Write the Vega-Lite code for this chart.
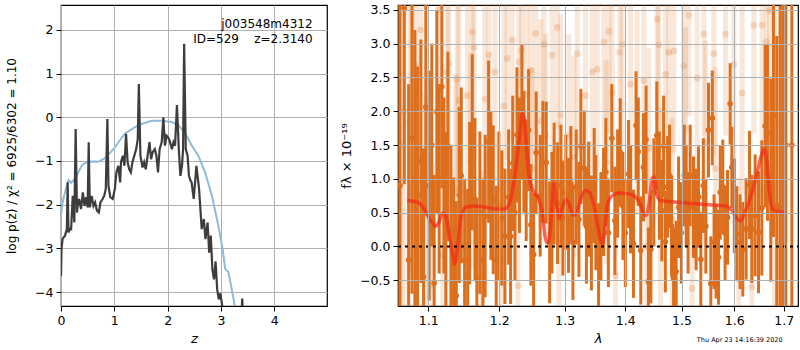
{
"$schema": "https://vega.github.io/schema/vega-lite/v6.json",
"background": "white",
"padding": {"left": 4, "top": 3, "right": 0, "bottom": 0},
"bounds": "flush",
"spacing": 71,
"title": {"text": "Thu Apr 23 14:16:39 2020", "orient": "bottom", "anchor": "end", "fontSize": 6.5, "fontWeight": "normal", "font": "DejaVu Sans", "color": "black", "offset": -9, "dx": -16},
"config": {
  "font": "DejaVu Sans",
  "view": {"stroke": "black", "strokeWidth": 1.2},
  "axis": {"grid": true, "gridColor": "#b0b0b0", "gridWidth": 1, "gridOpacity": 1, "domain": false, "tickColor": "black", "tickSize": 5, "tickWidth": 1, "labelFont": "DejaVu Sans", "labelFontSize": 12.5, "labelColor": "black", "labelOverlap": false, "labelFlush": false, "titleFont": "DejaVu Sans", "titleFontSize": 13, "titleFontWeight": "normal", "titleColor": "black", "labelPadding": 3, "titlePadding": 6}
},
"datasets": {
  "pz": [
    {"z":0.0,"lnp":-3.63},{"z":0.01,"lnp":-3.0},{"z":0.03,"lnp":-2.79},{"z":0.05,"lnp":-2.75},{"z":0.075,"lnp":-2.71},{"z":0.1,"lnp":-2.6},{"z":0.11,"lnp":-2.56},{"z":0.125,"lnp":-1.49},{"z":0.14,"lnp":-2.64},{"z":0.17,"lnp":-2.55},{"z":0.19,"lnp":-2.56},{"z":0.22,"lnp":-1.8},{"z":0.25,"lnp":-2.41},{"z":0.275,"lnp":-0.27},{"z":0.3,"lnp":-2.18},{"z":0.32,"lnp":-1.95},{"z":0.34,"lnp":-1.87},{"z":0.375,"lnp":-2.1},{"z":0.41,"lnp":-1.72},{"z":0.44,"lnp":-2.03},{"z":0.47,"lnp":-1.83},{"z":0.5,"lnp":-2.06},{"z":0.52,"lnp":-0.57},{"z":0.54,"lnp":-2.06},{"z":0.575,"lnp":-1.8},{"z":0.61,"lnp":-2.03},{"z":0.64,"lnp":-1.95},{"z":0.675,"lnp":-2.14},{"z":0.71,"lnp":-2.18},{"z":0.74,"lnp":-1.95},{"z":0.78,"lnp":-1.87},{"z":0.81,"lnp":-1.8},{"z":0.84,"lnp":-1.64},{"z":0.87,"lnp":-0.04},{"z":0.89,"lnp":-1.57},{"z":0.925,"lnp":-1.83},{"z":0.97,"lnp":-1.87},{"z":1.01,"lnp":-1.64},{"z":1.04,"lnp":-1.26},{"z":1.075,"lnp":-1.11},{"z":1.11,"lnp":-1.49},{"z":1.125,"lnp":-1.03},{"z":1.16,"lnp":-0.88},{"z":1.19,"lnp":-1.11},{"z":1.22,"lnp":-0.38},{"z":1.25,"lnp":-1.03},{"z":1.28,"lnp":-1.19},{"z":1.31,"lnp":-1.26},{"z":1.34,"lnp":-1.03},{"z":1.375,"lnp":-0.88},{"z":1.41,"lnp":-0.73},{"z":1.44,"lnp":-0.5},{"z":1.46,"lnp":0.76},{"z":1.49,"lnp":-0.88},{"z":1.53,"lnp":-1.15},{"z":1.56,"lnp":-1.03},{"z":1.59,"lnp":-1.19},{"z":1.625,"lnp":-0.88},{"z":1.66,"lnp":-0.57},{"z":1.69,"lnp":-0.96},{"z":1.72,"lnp":-0.8},{"z":1.76,"lnp":-0.73},{"z":1.79,"lnp":-0.88},{"z":1.82,"lnp":-1.26},{"z":1.85,"lnp":-0.73},{"z":1.89,"lnp":-0.57},{"z":1.92,"lnp":0.0},{"z":1.95,"lnp":-0.65},{"z":1.98,"lnp":-0.42},{"z":2.01,"lnp":-0.46},{"z":2.04,"lnp":-0.54},{"z":2.08,"lnp":-0.73},{"z":2.11,"lnp":-0.57},{"z":2.14,"lnp":-0.65},{"z":2.175,"lnp":0.28},{"z":2.21,"lnp":-0.73},{"z":2.24,"lnp":-1.34},{"z":2.27,"lnp":-1.11},{"z":2.29,"lnp":-0.73},{"z":2.31,"lnp":1.68},{"z":2.34,"lnp":-0.73},{"z":2.375,"lnp":-0.88},{"z":2.4,"lnp":-1.34},{"z":2.43,"lnp":-1.45},{"z":2.45,"lnp":-1.49},{"z":2.49,"lnp":-1.87},{"z":2.54,"lnp":-1.11},{"z":2.59,"lnp":-1.64},{"z":2.64,"lnp":-2.56},{"z":2.68,"lnp":-2.33},{"z":2.71,"lnp":-2.79},{"z":2.75,"lnp":-2.41},{"z":2.78,"lnp":-3.1},{"z":2.81,"lnp":-2.71},{"z":2.84,"lnp":-3.48},{"z":2.87,"lnp":-3.71},{"z":2.9,"lnp":-3.3},{"z":2.93,"lnp":-3.94},{"z":2.96,"lnp":-4.17},{"z":2.99,"lnp":-4.03},{"z":3.03,"lnp":-4.36},{"z":3.08,"lnp":-4.7},{"z":3.2,"lnp":-5.2},{"z":3.37,"lnp":-5.0},{"z":3.4,"lnp":-4.15},{"z":3.43,"lnp":-5.0},{"z":3.6,"lnp":-5.5}
  ],
  "prior": [
    {"z":0.0,"lnp":-2.24},{"z":0.03,"lnp":-1.95},{"z":0.06,"lnp":-1.79},{"z":0.1,"lnp":-1.6},{"z":0.14,"lnp":-1.44},{"z":0.19,"lnp":-1.5},{"z":0.27,"lnp":-1.4},{"z":0.33,"lnp":-1.25},{"z":0.39,"lnp":-1.1},{"z":0.49,"lnp":-1.02},{"z":0.64,"lnp":-1.01},{"z":0.7,"lnp":-1.02},{"z":0.83,"lnp":-0.93},{"z":0.99,"lnp":-0.72},{"z":1.2,"lnp":-0.37},{"z":1.45,"lnp":-0.18},{"z":1.7,"lnp":-0.08},{"z":1.89,"lnp":-0.08},{"z":2.08,"lnp":-0.11},{"z":2.2,"lnp":-0.18},{"z":2.33,"lnp":-0.37},{"z":2.45,"lnp":-0.64},{"z":2.58,"lnp":-0.89},{"z":2.7,"lnp":-1.25},{"z":2.83,"lnp":-1.79},{"z":2.95,"lnp":-2.47},{"z":3.03,"lnp":-3.0},{"z":3.08,"lnp":-3.47},{"z":3.14,"lnp":-3.54},{"z":3.2,"lnp":-3.92},{"z":3.26,"lnp":-4.32},{"z":3.35,"lnp":-5.0}
  ],
  "dark": [
    {"w":1.0625,"f":0.9,"e":3.2},{"w":1.0682,"f":3.52,"e":2.6},{"w":1.0739,"f":-0.2,"e":2.6},{"w":1.0783,"f":1.6,"e":2.3},{"w":1.0822,"f":1.0,"e":2.2},{"w":1.0857,"f":0.76,"e":1.9},{"w":1.0901,"f":1.26,"e":1.8},{"w":1.0937,"f":-0.45,"e":1.9},{"w":1.0967,"f":2.06,"e":1.6},{"w":1.1012,"f":0.9,"e":1.7},{"w":1.1048,"f":1.5,"e":1.5},{"w":1.108,"f":-0.54,"e":1.6},{"w":1.1116,"f":1.99,"e":1.5},{"w":1.1148,"f":1.0,"e":1.4},{"w":1.1185,"f":2.36,"e":1.5},{"w":1.1213,"f":0.9,"e":1.3},{"w":1.124,"f":0.39,"e":1.3},{"w":1.1268,"f":1.48,"e":1.4},{"w":1.131,"f":0.2,"e":1.3},{"w":1.1347,"f":-0.28,"e":1.3},{"w":1.1384,"f":-0.73,"e":1.4},{"w":1.1426,"f":0.76,"e":1.3},{"w":1.1454,"f":1.05,"e":1.3},{"w":1.1501,"f":-0.2,"e":1.2},{"w":1.1544,"f":-0.45,"e":1.3},{"w":1.1572,"f":0.64,"e":1.2},{"w":1.1609,"f":1.54,"e":1.3},{"w":1.1647,"f":0.7,"e":1.2},{"w":1.1675,"f":-0.49,"e":1.2},{"w":1.1718,"f":0.5,"e":1.2},{"w":1.1761,"f":-0.2,"e":1.2},{"w":1.1794,"f":0.45,"e":1.2},{"w":1.1844,"f":1.55,"e":1.2},{"w":1.1877,"f":0.9,"e":1.1},{"w":1.1911,"f":0.69,"e":1.1},{"w":1.1955,"f":-0.2,"e":1.1},{"w":1.1994,"f":0.6,"e":1.1},{"w":1.2038,"f":0.42,"e":1.0},{"w":1.2083,"f":0.15,"e":1.0},{"w":1.2138,"f":0.73,"e":1.0},{"w":1.2167,"f":0.15,"e":1.0},{"w":1.2199,"f":1.23,"e":1.0},{"w":1.2232,"f":0.5,"e":1.0},{"w":1.2262,"f":1.65,"e":1.0},{"w":1.23,"f":1.2,"e":1.0},{"w":1.2337,"f":1.99,"e":1.0},{"w":1.2367,"f":1.4,"e":0.9},{"w":1.2402,"f":0.98,"e":0.9},{"w":1.2438,"f":1.72,"e":0.9},{"w":1.2473,"f":0.32,"e":0.9},{"w":1.2515,"f":-0.12,"e":0.9},{"w":1.2555,"f":1.39,"e":0.9},{"w":1.2616,"f":0.75,"e":0.9},{"w":1.2658,"f":1.25,"e":0.9},{"w":1.2709,"f":1.24,"e":0.9},{"w":1.2763,"f":0.06,"e":0.9},{"w":1.2799,"f":0.5,"e":0.9},{"w":1.2834,"f":0.93,"e":0.9},{"w":1.2888,"f":0.64,"e":0.9},{"w":1.294,"f":0.9,"e":0.9},{"w":1.2972,"f":0.42,"e":0.85},{"w":1.3019,"f":0.8,"e":0.85},{"w":1.3062,"f":0.46,"e":0.85},{"w":1.3099,"f":0.93,"e":0.85},{"w":1.3132,"f":0.06,"e":0.85},{"w":1.3185,"f":0.88,"e":0.85},{"w":1.3229,"f":0.4,"e":0.85},{"w":1.3261,"f":1.48,"e":0.85},{"w":1.3315,"f":1.16,"e":0.85},{"w":1.3351,"f":0.3,"e":0.85},{"w":1.3388,"f":0.7,"e":0.85},{"w":1.3433,"f":0.2,"e":0.85},{"w":1.3479,"f":0.9,"e":0.85},{"w":1.3507,"f":0.5,"e":0.85},{"w":1.3551,"f":-0.21,"e":0.85},{"w":1.359,"f":0.3,"e":0.8},{"w":1.3634,"f":0.66,"e":0.8},{"w":1.3673,"f":1.1,"e":0.8},{"w":1.3715,"f":0.2,"e":0.8},{"w":1.3773,"f":1.6,"e":0.8},{"w":1.3825,"f":0.38,"e":0.8},{"w":1.3871,"f":0.93,"e":0.8},{"w":1.3916,"f":1.39,"e":0.8},{"w":1.3961,"f":0.6,"e":0.8},{"w":1.4003,"f":0.2,"e":0.8},{"w":1.4058,"f":1.07,"e":0.8},{"w":1.4093,"f":0.7,"e":0.8},{"w":1.4143,"f":0.04,"e":0.8},{"w":1.4188,"f":1.79,"e":0.8},{"w":1.4226,"f":1.4,"e":0.8},{"w":1.427,"f":-0.06,"e":0.8},{"w":1.4317,"f":1.17,"e":0.8},{"w":1.4363,"f":1.58,"e":0.8},{"w":1.4405,"f":-0.52,"e":0.8},{"w":1.4447,"f":-0.04,"e":0.8},{"w":1.45,"f":0.8,"e":0.8},{"w":1.4553,"f":1.64,"e":0.8},{"w":1.4598,"f":0.9,"e":0.8},{"w":1.4643,"f":0.53,"e":0.75},{"w":1.4675,"f":1.48,"e":0.75},{"w":1.4706,"f":0.07,"e":0.75},{"w":1.4746,"f":0.88,"e":0.75},{"w":1.4782,"f":1.05,"e":0.75},{"w":1.4818,"f":0.3,"e":0.75},{"w":1.4855,"f":-0.47,"e":0.75},{"w":1.4902,"f":-0.37,"e":0.75},{"w":1.4946,"f":0.58,"e":0.75},{"w":1.4997,"f":0.2,"e":0.75},{"w":1.5049,"f":1.05,"e":0.75},{"w":1.5086,"f":0.75,"e":0.75},{"w":1.5122,"f":0.35,"e":0.75},{"w":1.516,"f":1.05,"e":0.75},{"w":1.5222,"f":0.58,"e":0.75},{"w":1.5271,"f":0.4,"e":0.75},{"w":1.5316,"f":0.73,"e":0.75},{"w":1.5359,"f":-0.19,"e":0.7},{"w":1.5406,"f":0.9,"e":0.7},{"w":1.5453,"f":0.3,"e":0.7},{"w":1.5504,"f":1.72,"e":0.7},{"w":1.5548,"f":-0.55,"e":0.7},{"w":1.5576,"f":1.9,"e":0.7},{"w":1.561,"f":0.07,"e":0.7},{"w":1.5648,"f":-0.07,"e":0.7},{"w":1.5695,"f":-0.16,"e":0.7},{"w":1.5729,"f":0.8,"e":0.7},{"w":1.5778,"f":0.88,"e":0.7},{"w":1.5822,"f":0.2,"e":0.7},{"w":1.5869,"f":0.43,"e":0.7},{"w":1.592,"f":2.11,"e":0.6},{"w":1.5953,"f":1.17,"e":0.6},{"w":1.6002,"f":0.6,"e":0.7},{"w":1.6051,"f":0.19,"e":0.7},{"w":1.6116,"f":0.07,"e":0.7},{"w":1.6169,"f":-0.04,"e":0.7},{"w":1.6235,"f":0.26,"e":0.75},{"w":1.6303,"f":0.91,"e":0.8},{"w":1.6349,"f":0.26,"e":0.8},{"w":1.6415,"f":0.46,"e":0.9},{"w":1.6483,"f":0.21,"e":0.9},{"w":1.655,"f":0.57,"e":1.0},{"w":1.6617,"f":1.78,"e":1.2},{"w":1.6665,"f":1.68,"e":1.3},{"w":1.6733,"f":0.98,"e":1.5},{"w":1.6788,"f":1.94,"e":1.8},{"w":1.6856,"f":0.61,"e":2.5},{"w":1.6925,"f":0.56,"e":3.0},{"w":1.6981,"f":1.5,"e":4.0},{"w":1.7044,"f":1.5,"e":4.0},{"w":1.717,"f":1.5,"e":4.0}
  ],
  "light": [
    {"w":1.0635,"f":1.5,"e":3.0},{"w":1.0678,"f":2.0,"e":3.0},{"w":1.0756,"f":1.86,"e":2.2},{"w":1.0783,"f":2.13,"e":2.0},{"w":1.0832,"f":2.68,"e":2.0},{"w":1.0898,"f":3.2,"e":2.0},{"w":1.0965,"f":0.46,"e":1.8},{"w":1.1054,"f":-0.58,"e":1.8},{"w":1.1141,"f":3.5,"e":1.8},{"w":1.1199,"f":-0.13,"e":1.8},{"w":1.1258,"f":2.58,"e":1.7},{"w":1.1282,"f":2.7,"e":1.7},{"w":1.1375,"f":0.85,"e":1.7},{"w":1.1398,"f":2.47,"e":1.7},{"w":1.1421,"f":2.16,"e":1.7},{"w":1.1539,"f":2.23,"e":1.6},{"w":1.1586,"f":1.26,"e":1.6},{"w":1.1609,"f":3.17,"e":1.6},{"w":1.1633,"f":2.95,"e":1.6},{"w":1.1752,"f":-0.48,"e":1.6},{"w":1.179,"f":2.18,"e":1.6},{"w":1.1848,"f":2.83,"e":1.6},{"w":1.1936,"f":2.58,"e":1.6},{"w":1.2038,"f":-0.43,"e":1.6},{"w":1.2068,"f":2.08,"e":1.5},{"w":1.2117,"f":2.78,"e":1.5},{"w":1.2192,"f":3.05,"e":1.5},{"w":1.2277,"f":-0.58,"e":1.5},{"w":1.2292,"f":2.73,"e":1.5},{"w":1.2332,"f":2.9,"e":1.5},{"w":1.2402,"f":2.24,"e":1.5},{"w":1.2469,"f":2.6,"e":1.5},{"w":1.2494,"f":1.15,"e":1.5},{"w":1.2546,"f":3.15,"e":1.5},{"w":1.2622,"f":1.86,"e":1.5},{"w":1.2674,"f":2.99,"e":1.5},{"w":1.27,"f":1.64,"e":1.5},{"w":1.2804,"f":2.83,"e":1.5},{"w":1.2883,"f":3.24,"e":1.5},{"w":1.2909,"f":0.35,"e":1.5},{"w":1.2936,"f":1.94,"e":1.5},{"w":1.3068,"f":1.64,"e":1.5},{"w":1.3148,"f":1.32,"e":1.5},{"w":1.3202,"f":2.85,"e":1.5},{"w":1.3337,"f":2.23,"e":1.5},{"w":1.3446,"f":2.58,"e":1.5},{"w":1.3528,"f":2.62,"e":1.5},{"w":1.364,"f":3.02,"e":1.5},{"w":1.3681,"f":1.25,"e":1.5},{"w":1.3723,"f":3.18,"e":1.5},{"w":1.3779,"f":2.28,"e":1.5},{"w":1.3836,"f":-0.43,"e":1.5},{"w":1.3909,"f":2.87,"e":1.5},{"w":1.3948,"f":2.99,"e":1.5},{"w":1.4092,"f":2.4,"e":1.5},{"w":1.4206,"f":1.99,"e":1.5},{"w":1.4324,"f":2.45,"e":1.5},{"w":1.4377,"f":0.0,"e":1.5},{"w":1.4412,"f":1.44,"e":1.5},{"w":1.4559,"f":3.36,"e":1.5},{"w":1.4589,"f":2.98,"e":1.5},{"w":1.4619,"f":0.55,"e":1.5},{"w":1.471,"f":2.55,"e":1.5},{"w":1.4769,"f":2.87,"e":1.5},{"w":1.4829,"f":0.4,"e":1.5},{"w":1.486,"f":2.89,"e":1.5},{"w":1.5043,"f":2.67,"e":1.5},{"w":1.5074,"f":1.74,"e":1.5},{"w":1.5135,"f":3.42,"e":1.5},{"w":1.5197,"f":-0.62,"e":1.5},{"w":1.529,"f":2.49,"e":1.5},{"w":1.5416,"f":3.14,"e":1.5},{"w":1.5448,"f":1.54,"e":1.5},{"w":1.5605,"f":2.85,"e":1.5},{"w":1.5637,"f":1.15,"e":1.5},{"w":1.583,"f":3.14,"e":1.5},{"w":1.5992,"f":2.69,"e":1.5},{"w":1.609,"f":-0.48,"e":1.5},{"w":1.6156,"f":2.27,"e":1.5},{"w":1.6349,"f":-0.6,"e":1.6},{"w":1.6389,"f":3.27,"e":1.6},{"w":1.6556,"f":3.27,"e":1.7},{"w":1.6645,"f":3.03,"e":1.8},{"w":1.6706,"f":3.49,"e":2.0},{"w":1.6815,"f":1.5,"e":3.0},{"w":1.6939,"f":1.8,"e":3.0}
  ],
  "model": [
    {"w":1.0721,"f":0.68},{"w":1.0853,"f":0.655},{"w":1.0942,"f":0.56},{"w":1.1033,"f":0.38},{"w":1.11,"f":0.3},{"w":1.1145,"f":0.36},{"w":1.1199,"f":0.5},{"w":1.1236,"f":0.46},{"w":1.1282,"f":0.21},{"w":1.1328,"f":-0.08},{"w":1.1361,"f":-0.26},{"w":1.1398,"f":-0.04},{"w":1.1445,"f":0.41},{"w":1.1516,"f":0.58},{"w":1.1609,"f":0.6},{"w":1.18,"f":0.58},{"w":1.1994,"f":0.55},{"w":1.2093,"f":0.56},{"w":1.2167,"f":0.7},{"w":1.2232,"f":1.05},{"w":1.2292,"f":1.54},{"w":1.2342,"f":1.96},{"w":1.2367,"f":1.91},{"w":1.2402,"f":1.54},{"w":1.2443,"f":1.05},{"w":1.252,"f":0.8},{"w":1.2596,"f":0.7},{"w":1.2648,"f":0.51},{"w":1.2689,"f":0.16},{"w":1.2726,"f":0.05},{"w":1.2763,"f":0.16},{"w":1.2804,"f":0.66},{"w":1.283,"f":0.93},{"w":1.2867,"f":0.66},{"w":1.292,"f":0.41},{"w":1.2972,"f":0.61},{"w":1.3025,"f":0.7},{"w":1.3079,"f":0.61},{"w":1.3137,"f":0.46},{"w":1.3185,"f":0.48},{"w":1.3256,"f":0.7},{"w":1.3337,"f":0.83},{"w":1.3402,"f":0.8},{"w":1.3474,"f":0.61},{"w":1.3528,"f":0.36},{"w":1.3573,"f":0.14},{"w":1.3611,"f":0.04},{"w":1.3651,"f":0.21},{"w":1.3695,"f":0.61},{"w":1.3779,"f":0.75},{"w":1.3892,"f":0.79},{"w":1.4063,"f":0.78},{"w":1.4179,"f":0.73},{"w":1.4267,"f":0.61},{"w":1.4324,"f":0.48},{"w":1.4365,"f":0.46},{"w":1.4412,"f":0.61},{"w":1.4471,"f":1.0},{"w":1.45,"f":1.03},{"w":1.4559,"f":0.75},{"w":1.4619,"f":0.68},{"w":1.4829,"f":0.66},{"w":1.5135,"f":0.64},{"w":1.5448,"f":0.62},{"w":1.583,"f":0.6},{"w":1.596,"f":0.53},{"w":1.6058,"f":0.41},{"w":1.6125,"f":0.38},{"w":1.6223,"f":0.53},{"w":1.6355,"f":0.8},{"w":1.6456,"f":1.1},{"w":1.6524,"f":1.3},{"w":1.6591,"f":1.44},{"w":1.6645,"f":1.3},{"w":1.6706,"f":0.8},{"w":1.676,"f":0.56},{"w":1.6898,"f":0.51},{"w":1.7037,"f":0.5}
  ]
},
"hconcat": [
  {
    "width": 266, "height": 301,
    "layer": [
      {"data": {"name": "prior"}, "mark": {"type": "line", "color": "#8fbbd9", "strokeWidth": 2, "clip": true},
       "encoding": {
         "x": {"field": "z", "type": "quantitative", "title": "z", "scale": {"domain": [0, 4.99], "nice": false, "zero": false}, "axis": {"values": [0,1,2,3,4], "titleFontStyle": "italic", "format": "d", "grid": true}},
         "y": {"field": "lnp", "type": "quantitative", "title": "log p(z) / χ² = 6925/6302 = 1.10", "scale": {"domain": [-4.32, 2.57], "nice": false, "zero": false}, "axis": {"values": [-4,-3,-2,-1,0,1,2], "format": "d", "titlePadding": 16, "titleFontSize": 12, "grid": true}}
       }},
      {"data": {"name": "pz"}, "mark": {"type": "line", "color": "#3d3d3d", "strokeWidth": 2.2, "clip": true},
       "encoding": {"x": {"field": "z", "type": "quantitative", "title": "z"}, "y": {"field": "lnp", "type": "quantitative", "title": "log p(z) / χ² = 6925/6302 = 1.10"}}},
      {"data": {"values": [{}]}, "mark": {"type": "text", "align": "right", "baseline": "alphabetic", "fontSize": 12, "lineHeight": 14.5, "font": "DejaVu Sans", "color": "black", "text": ["j003548m4312", "ID=529\u00a0\u00a0\u00a0\u00a0z=2.3140"]},
       "encoding": {"x": {"datum": 4.72}, "y": {"datum": 2.04}}}
    ]
  },
  {
    "width": 400, "height": 301,
    "encoding": {
      "x": {"field": "w", "type": "quantitative", "title": "λ", "scale": {"type": "log", "domain": [1.06, 1.73], "nice": false}, "axis": {"values": [1.1,1.2,1.3,1.4,1.5,1.6,1.7], "format": ".1f", "titleFontStyle": "italic", "zindex": 1, "grid": true, "labelOverlap": false}},
      "y": {"field": "f", "type": "quantitative", "title": "fλ × 10⁻¹⁹", "scale": {"domain": [-0.88, 3.57], "nice": false, "zero": false}, "axis": {"values": [-0.5,0,0.5,1,1.5,2,2.5,3,3.5], "labelExpr": "format(datum.value, '.1f')", "zindex": 1, "grid": true, "labelOverlap": false, "gridOpacity": {"condition": {"test": "datum.value === 0", "value": 0}, "value": 1}}}
    },
    "layer": [
      {"data": {"name": "light"}, "mark": {"type": "errorbar", "ticks": false, "thickness": 5, "color": "#dc6f1e", "opacity": 0.17, "clip": true},
       "encoding": {"yError": {"field": "e"}}},
      {"data": {"name": "light"}, "mark": {"type": "point", "filled": true, "size": 45, "color": "#dc6f1e", "opacity": 0.22, "clip": true}},
      {"data": {"name": "dark"}, "mark": {"type": "errorbar", "ticks": false, "thickness": 3, "color": "#dc6f1e", "opacity": 1, "clip": true},
       "encoding": {"yError": {"field": "e"}}},
      {"data": {"name": "dark"}, "mark": {"type": "point", "filled": true, "size": 32, "color": "#dc6f1e", "opacity": 1, "clip": true}},
      {"data": {"name": "model"}, "mark": {"type": "line", "color": "#f52a14", "opacity": 0.7, "strokeWidth": 3.5, "interpolate": "monotone", "clip": true}},
      {"data": {"values": [{"w": 1.06, "f": 0}, {"w": 1.73, "f": 0}]}, "mark": {"type": "line", "color": "black", "strokeDash": [3, 4], "strokeWidth": 2, "clip": true}}
    ]
  }
]
}
